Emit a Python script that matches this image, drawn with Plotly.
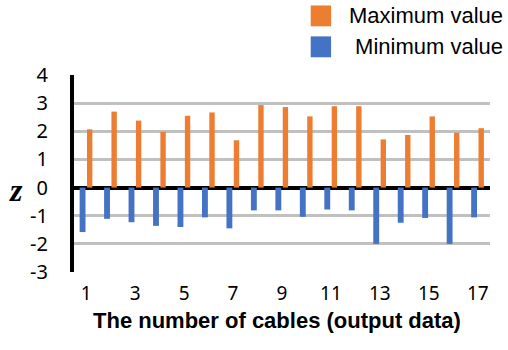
import plotly.graph_objects as go

cables = list(range(1, 18))
max_values = [2.07, 2.70, 2.38, 1.98, 2.55, 2.67, 1.68, 2.93, 2.86, 2.53, 2.89, 2.89, 1.71, 1.87, 2.53, 1.95, 2.11]
min_values = [-1.58, -1.11, -1.23, -1.36, -1.40, -1.06, -1.45, -0.81, -0.81, -1.04, -0.78, -0.81, -2.00, -1.25, -1.08, -2.00, -1.06]
y_ticks = [-3, -2, -1, 0, 1, 2, 3, 4]
y_ticktext = ["-3", "-2", "-1", "0", "1", "2", "3", "4"]
x_ticks = [1, 3, 5, 7, 9, 11, 13, 15, 17]

ORANGE = "#ED7D31"
BLUE = "#4472C4"

fig = go.Figure()
fig.add_trace(go.Bar(x=cables, y=min_values, name=" Minimum value",
                     marker=dict(color=BLUE, line=dict(width=0)),
                     width=0.24, offset=-0.27))
fig.add_trace(go.Bar(x=cables, y=max_values, name="Maximum value",
                     marker=dict(color=ORANGE, line=dict(width=0)),
                     width=0.22, offset=0.03))

fig.update_layout(
    width=508, height=350,
    margin=dict(l=74, r=18, t=75, b=78),
    paper_bgcolor="white", plot_bgcolor="white",
    showlegend=False,
    barmode="overlay",
    font=dict(family="Noto Sans", color="black"),
    xaxis=dict(range=[0.5, 17.5], tickvals=x_ticks, ticktext=[str(v) for v in x_ticks],
               showgrid=False, zeroline=False, showline=False,
               tickfont=dict(family="Noto Sans", size=19),
               ticks="", ticklabelstandoff=8),
    yaxis=dict(range=[-3, 4], tickvals=y_ticks, ticktext=y_ticktext,
               showgrid=True, gridcolor="#c0c0c0", gridwidth=2.5,
               zeroline=True, zerolinecolor="black", zerolinewidth=4,
               showline=True, linecolor="black", linewidth=4,
               tickfont=dict(family="Noto Sans", size=20),
               ticks="", ticklabelstandoff=18),
)

# x axis title
fig.add_annotation(text="<b>The number of cables (output data)</b>", xref="paper", yref="paper",
                   x=0.487, y=-0.245, xanchor="center", yanchor="middle", showarrow=False,
                   font=dict(family="Liberation Sans", size=22, color="black"))

# z axis label
fig.add_annotation(text="<b><i>z</i></b>", xref="paper", yref="y", x=-0.16, y=-0.08,
                   showarrow=False, font=dict(family="Liberation Serif", size=32, color="black"))

# legend drawn in paper coords
fig.add_shape(type="rect", xref="paper", yref="paper", x0=0.569, x1=0.618, y0=1.247, y1=1.353,
              fillcolor=ORANGE, line=dict(width=0))
fig.add_shape(type="rect", xref="paper", yref="paper", x0=0.569, x1=0.618, y0=1.090, y1=1.196,
              fillcolor=BLUE, line=dict(width=0))
fig.add_annotation(text="Maximum value", xref="paper", yref="paper", x=1.036, y=1.30,
                   xanchor="right", yanchor="middle", showarrow=False,
                   font=dict(family="Liberation Sans", size=22, color="black"))
fig.add_annotation(text=" Minimum value", xref="paper", yref="paper", x=1.036, y=1.145,
                   xanchor="right", yanchor="middle", showarrow=False,
                   font=dict(family="Liberation Sans", size=22, color="black"))

fig.write_html("out.html", config={"displayModeBar": False},
               post_script="document.body.style.margin='0';")
